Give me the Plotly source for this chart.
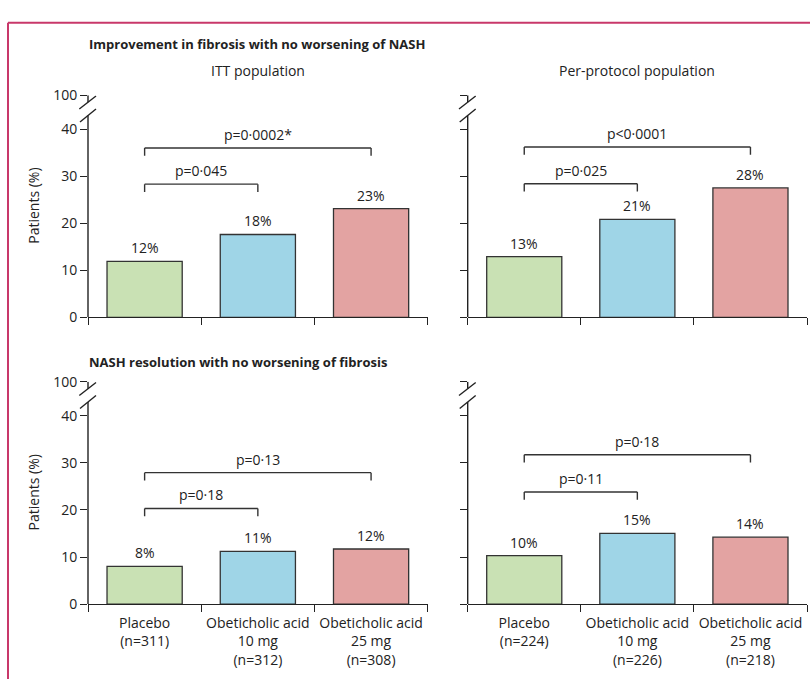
import plotly.graph_objects as go

# ---------------- data ----------------
categories_itt = ["Placebo<br>(n=311)", "Obeticholic acid<br>10 mg<br>(n=312)", "Obeticholic acid<br>25 mg<br>(n=308)"]
categories_pp = ["Placebo<br>(n=224)", "Obeticholic acid<br>10 mg<br>(n=226)", "Obeticholic acid<br>25 mg<br>(n=218)"]

fibrosis_itt = [11.9, 17.6, 23.1]
fibrosis_pp = [12.9, 20.8, 27.5]
nash_itt = [8.0, 11.2, 11.7]
nash_pp = [10.3, 15.0, 14.2]

fibrosis_itt_p = ["p=0·045", "p=0·0002*"]
fibrosis_pp_p = ["p=0·025", "p<0·0001"]
nash_itt_p = ["p=0·18", "p=0·13"]
nash_pp_p = ["p=0·11", "p=0·18"]

fibrosis_itt_bracket = [28.3, 36.0]
fibrosis_pp_bracket = [28.4, 36.2]
nash_itt_bracket = [20.3, 27.9]
nash_pp_bracket = [23.8, 31.7]

y_tick_values = [0, 10, 20, 30, 40]
y_tick_labels = ["0", "10", "20", "30", "40"]
break_tick_label = "100"

title_top = "Improvement in fibrosis with no worsening of NASH"
title_bottom = "NASH resolution with no worsening of fibrosis"
subtitle_left = "ITT population"
subtitle_right = "Per-protocol population"
y_title = "Patients (%)"

bar_colors = ["#c9e1b4", "#9fd5e7", "#e3a3a2"]

# ---------------- layout helpers ----------------
W, H = 810, 688
FONT = "Open Sans"
TXT = "#222222"
AX = "#222222"
YMAX = 47.2          # axis position of the "100" (broken-axis) tick
BREAK_HI = 45.7      # upper stub of the axis starts here
BREAK_LO = 42.9      # lower part of the axis ends here
LEG = 1.65           # bracket leg length (data units)


def fx(p):
    return p / W


def fy(p):
    return 1 - p / H


x_left = [fx(88), fx(427.7)]
x_right = [fx(467.7), fx(807)]
y_top = [fy(316), fy(87.7)]
y_bot = [fy(611), fy(382.3)]

panels = [
    dict(n="", xd=x_left, yd=y_top, cats=categories_itt, vals=fibrosis_itt,
         p=fibrosis_itt_p, lv=fibrosis_itt_bracket, xl=False, yl=True),
    dict(n="2", xd=x_right, yd=y_top, cats=categories_pp, vals=fibrosis_pp,
         p=fibrosis_pp_p, lv=fibrosis_pp_bracket, xl=False, yl=False),
    dict(n="3", xd=x_left, yd=y_bot, cats=categories_itt, vals=nash_itt,
         p=nash_itt_p, lv=nash_itt_bracket, xl=True, yl=True),
    dict(n="4", xd=x_right, yd=y_bot, cats=categories_pp, vals=nash_pp,
         p=nash_pp_p, lv=nash_pp_bracket, xl=True, yl=False),
]

fig = go.Figure()
shapes = []
annotations = []
layout_axes = {}

for pn in panels:
    n = pn["n"]
    xa, ya = "x" + n, "y" + n
    fig.add_trace(go.Bar(
        x=pn["cats"], y=pn["vals"], xaxis=xa, yaxis=ya, width=0.664,
        marker=dict(color=bar_colors, line=dict(color="#333333", width=1.3)),
        showlegend=False, hoverinfo="skip",
    ))
    layout_axes["xaxis" + n] = dict(
        domain=pn["xd"], anchor=ya, type="category", range=[-0.5, 2.5],
        tickson="boundaries", ticks="outside", ticklen=7, tickwidth=1.4, tickcolor=AX,
        showline=True, linecolor=AX, linewidth=1.4, showgrid=False, zeroline=False,
        showticklabels=pn["xl"], tickfont=dict(family=FONT, size=14, color=TXT),
        ticklabelstandoff=6, fixedrange=True,
    )
    layout_axes["yaxis" + n] = dict(
        domain=pn["yd"], anchor=xa, range=[0, YMAX],
        tickmode="array", tickvals=y_tick_values + [YMAX],
        ticktext=y_tick_labels + [break_tick_label],
        ticks="outside", ticklen=7, tickwidth=1.4, tickcolor=AX,
        showline=False, showgrid=False, zeroline=False,
        showticklabels=pn["yl"], tickfont=dict(family=FONT, size=14, color=TXT),
        fixedrange=True,
    )
    xdom = xa + " domain"
    wpx = (pn["xd"][1] - pn["xd"][0]) * W
    line = dict(color=AX, width=1.4)
    # broken y axis line
    shapes.append(dict(type="line", xref=xdom, yref=ya, x0=0, x1=0, y0=0, y1=BREAK_LO, line=line))
    shapes.append(dict(type="line", xref=xdom, yref=ya, x0=0, x1=0, y0=BREAK_HI, y1=YMAX, line=line))
    shapes.append(dict(type="line", xref=xdom, yref=ya, x0=-8.7 / wpx, x1=8 / wpx,
                       y0=44.28, y1=47.05, line=line))
    shapes.append(dict(type="line", xref=xdom, yref=ya, x0=-8 / wpx, x1=8 / wpx,
                       y0=41.53, y1=44.28, line=line))
    # significance brackets
    bl = dict(color="#333333", width=1.4)
    for (xe, lv, txt) in zip([1, 2], pn["lv"], pn["p"]):
        shapes.append(dict(type="line", xref=xa, yref=ya, x0=0, x1=xe, y0=lv, y1=lv, line=bl))
        shapes.append(dict(type="line", xref=xa, yref=ya, x0=0, x1=0, y0=lv - LEG, y1=lv, line=bl))
        shapes.append(dict(type="line", xref=xa, yref=ya, x0=xe, x1=xe, y0=lv - LEG, y1=lv, line=bl))
        annotations.append(dict(xref=xa, yref=ya, x=xe / 2, y=lv, text=txt, showarrow=False,
                                yanchor="bottom", yshift=2,
                                font=dict(family=FONT, size=14, color=TXT)))
    # value labels
    for i, v in enumerate(pn["vals"]):
        annotations.append(dict(xref=xa, yref=ya, x=i, y=v, text=f"{v:.0f}%", showarrow=False,
                                yanchor="bottom", yshift=2,
                                font=dict(family=FONT, size=14, color=TXT)))

# titles
annotations += [
    dict(xref="paper", yref="paper", x=fx(87), y=fy(35), text="<b>" + title_top + "</b>",
         showarrow=False, xanchor="left", yanchor="middle", font=dict(family=FONT, size=13, color=TXT)),
    dict(xref="paper", yref="paper", x=fx(87), y=fy(362), text="<b>" + title_bottom + "</b>",
         showarrow=False, xanchor="left", yanchor="middle", font=dict(family=FONT, size=13, color=TXT)),
    dict(xref="paper", yref="paper", x=(x_left[0] + x_left[1]) / 2, y=fy(62), text=subtitle_left,
         showarrow=False, xanchor="center", yanchor="middle", font=dict(family=FONT, size=14, color=TXT)),
    dict(xref="paper", yref="paper", x=(x_right[0] + x_right[1]) / 2, y=fy(62), text=subtitle_right,
         showarrow=False, xanchor="center", yanchor="middle", font=dict(family=FONT, size=14, color=TXT)),
    dict(xref="paper", yref="paper", x=fx(33.5), y=(y_top[0] + y_top[1]) / 2, text=y_title, textangle=-90,
         showarrow=False, xanchor="center", yanchor="middle", font=dict(family=FONT, size=14, color=TXT)),
    dict(xref="paper", yref="paper", x=fx(33.5), y=(y_bot[0] + y_bot[1]) / 2, text=y_title, textangle=-90,
         showarrow=False, xanchor="center", yanchor="middle", font=dict(family=FONT, size=14, color=TXT)),
]

# frame (top and left rule)
frame = dict(color="#c8386a", width=2)
shapes.append(dict(type="line", xref="paper", yref="paper", x0=fx(8), x1=1, y0=fy(13), y1=fy(13), line=frame))
shapes.append(dict(type="line", xref="paper", yref="paper", x0=fx(8), x1=fx(8), y0=fy(13), y1=0, line=frame))

fig.update_layout(
    width=W, height=H, margin=dict(l=0, r=0, t=0, b=0),
    paper_bgcolor="white", plot_bgcolor="white",
    font=dict(family=FONT, size=14, color=TXT),
    shapes=shapes, annotations=annotations, bargap=0.3,
    **layout_axes,
)

fig.write_html("out.html", config={"displayModeBar": False},
               post_script="document.body.style.margin='0px';document.body.style.overflow='hidden';")
